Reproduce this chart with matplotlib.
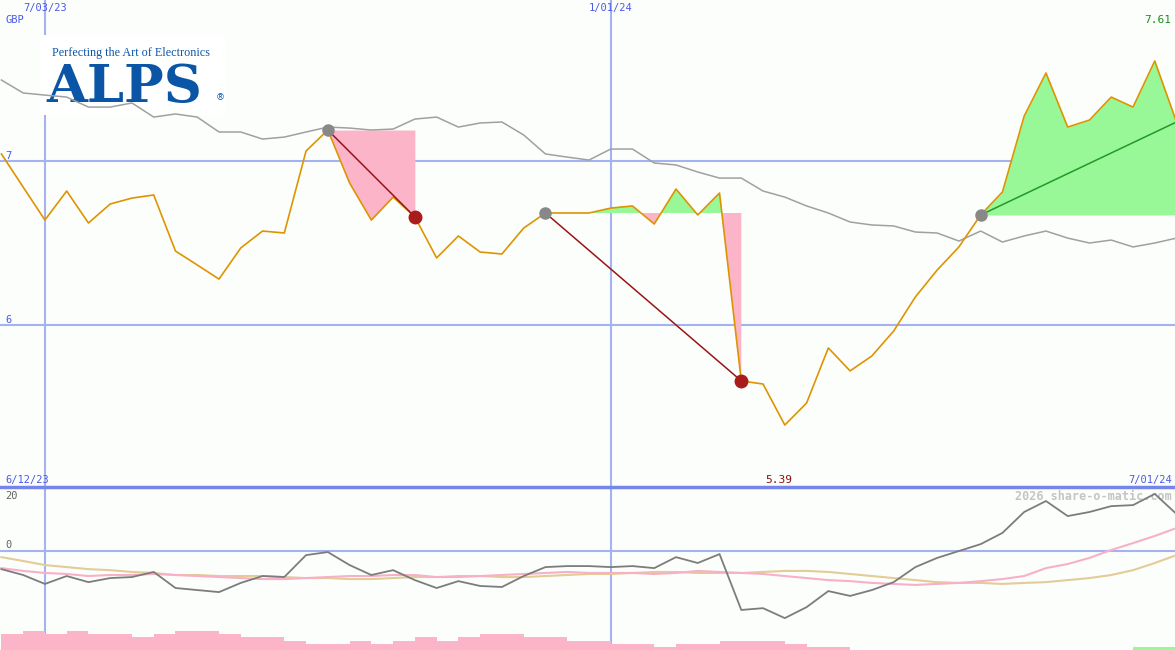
import numpy as np
import matplotlib.pyplot as plt
from matplotlib.patches import Rectangle

# weekly closes (GBP), 6/12/23 .. 7/01/24
price = [7.043, 6.841, 6.640, 6.817, 6.622, 6.738, 6.774, 6.793, 6.451, 6.366,
         6.280, 6.470, 6.573, 6.561, 7.061, 7.189, 6.866, 6.640, 6.780, 6.659,
         6.409, 6.543, 6.445, 6.433, 6.591, 6.683, 6.683, 6.683, 6.713, 6.726,
         6.616, 6.829, 6.671, 6.805, 5.659, 5.640, 5.390, 5.524, 5.860, 5.720,
         5.811, 5.963, 6.171, 6.335, 6.476, 6.671, 6.811, 7.274, 7.537, 7.207,
         7.250, 7.390, 7.329, 7.610, 7.238]
# moving average
ma = [7.494, 7.415, 7.402, 7.390, 7.329, 7.329, 7.354, 7.268, 7.287, 7.268,
      7.177, 7.177, 7.134, 7.146, 7.177, 7.207, 7.201, 7.189, 7.195, 7.256,
      7.268, 7.207, 7.232, 7.238, 7.159, 7.043, 7.024, 7.006, 7.073, 7.073,
      6.988, 6.976, 6.933, 6.896, 6.896, 6.817, 6.780, 6.726, 6.683, 6.628,
      6.610, 6.604, 6.567, 6.561, 6.512, 6.573, 6.506, 6.543, 6.573, 6.530,
      6.500, 6.518, 6.476, 6.500, 6.530]
# oscillator panel
momentum = [-7.1, -9.4, -12.9, -9.8, -12.2, -10.6, -10.2, -8.2, -14.5, -15.3,
            -16.1, -12.5, -9.8, -10.2, -1.6, -0.4, -5.5, -9.4, -7.5, -11.4,
            -14.5, -11.8, -13.7, -14.1, -9.8, -6.3, -5.9, -5.9, -6.3, -5.9,
            -6.7, -2.4, -4.7, -1.2, -23.1, -22.4, -26.3, -22.0, -15.7, -17.6,
            -15.3, -12.2, -6.3, -2.7, 0.0, 2.7, 7.1, 15.3, 19.6, 13.7,
            15.3, 17.6, 18.0, 22.4, 14.5]
signal_pink = [-6.7, -7.8, -8.6, -9.0, -9.8, -9.4, -9.4, -9.0, -9.4, -9.8,
               -10.2, -10.6, -11.0, -11.0, -10.6, -10.2, -9.8, -9.8, -9.4, -9.4,
               -10.2, -10.2, -9.8, -9.4, -9.0, -8.6, -8.2, -8.6, -8.6, -8.6,
               -9.0, -8.6, -7.8, -8.2, -8.6, -9.0, -9.8, -10.6, -11.4, -11.8,
               -12.5, -12.9, -13.3, -12.9, -12.5, -11.8, -11.0, -9.8, -6.7, -5.1,
               -2.7, 0.4, 3.1, 5.9, 9.0]
signal_tan = [-2.4, -3.9, -5.5, -6.3, -7.1, -7.5, -8.2, -8.6, -9.4, -9.4,
              -9.8, -9.8, -9.8, -10.2, -10.6, -10.6, -11.0, -11.0, -10.6, -10.2,
              -10.2, -9.8, -9.8, -10.2, -10.2, -9.8, -9.4, -9.0, -9.0, -8.6,
              -8.2, -8.2, -8.6, -8.6, -8.6, -8.2, -7.8, -7.8, -8.2, -9.0,
              -9.8, -10.6, -11.4, -12.2, -12.5, -12.5, -12.9, -12.5, -12.2, -11.4,
              -10.6, -9.4, -7.5, -4.7, -1.6]
osc_bars = [-5, -6, -5, -6, -5, -5, -4, -5, -6, -6,
            -5, -4, -4, -3, -2, -2, -3, -2, -3, -4,
            -3, -4, -5, -5, -4, -4, -3, -3, -2, -2,
            -1, -2, -2, -3, -3, -3, -2, -1, -1, 0,
            0, 0, 0, 0, 0, 0, 0, 0, 0, 0,
            0, 0, 1, 1]
# trades: (entry index, exit index)
trades = [(15, 19), (25, 34), (45, 54)]
open_trade = 2
date_top = ['7/03/23', '1/01/24']
date_top_idx = [2, 28]

x = np.arange(len(price))
price = np.array(price)

BG = '#fcfefc'
GRID = '#a3b3f0'
BLUE_TXT = '#4a5ae8'
LOGO = '#0a55a5'

fig = plt.figure(figsize=(11.75, 6.5), dpi=100, facecolor=BG)
ax = fig.add_axes([0, 163 / 650, 1, 487 / 650], facecolor=BG)
ax2 = fig.add_axes([0, 0, 1, 163 / 650], facecolor=BG)

xlim = (-0.064, 53.93)
for a in (ax, ax2):
    a.set_xlim(*xlim)
    for s in a.spines.values():
        s.set_visible(False)
    a.set_xticks([])
    a.set_yticks([])
    for xi in date_top_idx:
        a.axvline(xi, color=GRID, lw=1.5, zorder=1)

ax.set_ylim(5.012, 7.982)
for lvl in (6, 7):
    ax.axhline(lvl, color=GRID, lw=1.5, zorder=1)

# logo with white box
ax.add_patch(Rectangle((40 / 1175, 1 - 115 / 487), 185 / 1175, 80 / 487,
                       transform=ax.transAxes, facecolor='white', edgecolor='none', zorder=2))
ax.text(52 / 1175, 1 - 56 / 487, 'Perfecting the Art of Electronics', transform=ax.transAxes,
        family='Liberation Serif', fontsize=8.7, color=LOGO, va='baseline', ha='left', zorder=3)
ax.text(46 / 1175, 1 - 102 / 487, 'ALPS', transform=ax.transAxes, family='DejaVu Serif',
        fontweight='bold', fontsize=38, color=LOGO, va='baseline', ha='left', zorder=3)
ax.text(220 / 1175, 1 - 98 / 487, '®', transform=ax.transAxes, family='DejaVu Sans',
        fontsize=6.5, color=LOGO, va='center', ha='center', zorder=3)

ax.plot(x, ma, color='#a0a0a0', lw=1.1, zorder=4)

# trade fills
for k, (i0, i1) in enumerate(trades):
    seg = slice(i0, i1 + 1)
    lvl = price[i0]
    ax.fill_between(x[seg], price[seg], lvl, where=price[seg] >= lvl, interpolate=True,
                    color='#98f898', lw=0, zorder=3)
    ax.fill_between(x[seg], price[seg], lvl, where=price[seg] <= lvl, interpolate=True,
                    color='#fbb4c8', lw=0, zorder=3)

ax.plot(x, price, color='#de9400', lw=1.2, zorder=5)

for k, (i0, i1) in enumerate(trades):
    if k == open_trade:
        ax.plot([i0, i1], [price[i0], price[i1]], color='#229922', lw=1.1, zorder=6)
    else:
        ax.plot([i0, i1], [price[i0], price[i1]], color='#991515', lw=1.1, zorder=6)
        ax.plot(i1, price[i1], 'o', ms=9, color='#aa1c1c', zorder=7)
    ax.plot(i0, price[i0], 'o', ms=8, color='#888888', zorder=7)

mono = 'DejaVu Sans Mono'
for xi, lab in zip(date_top_idx, date_top):
    ax.text(xi, 1 - 8 / 487, lab, transform=ax.get_xaxis_transform(), ha='center', va='center',
            family=mono, fontsize=7.5, color=BLUE_TXT)
ax.text(5 / 1175, 1 - 20 / 487, 'GBP', transform=ax.transAxes, family=mono, fontsize=7.5,
        color=BLUE_TXT, va='center')
for lvl in (6, 7):
    ax.text(5 / 1175, lvl, str(lvl), transform=ax.get_yaxis_transform(), family=mono,
            fontsize=7.5, color=BLUE_TXT, va='bottom')
ax.text(1 - 4 / 1175, 1 - 20 / 487, '%.2f' % price.max(), transform=ax.transAxes, ha='right',
        va='center', family=mono, fontsize=8, color='#169016')
ax.text(x[np.argmin(price)] - 0.3, 1 - 480 / 487, '%.2f' % price.min(), transform=ax.get_xaxis_transform(),
        ha='center', va='center', family=mono, fontsize=8, color='#8a1010')
ax.text(5 / 1175, 1 - 480 / 487, '6/12/23', transform=ax.transAxes, family=mono, fontsize=7.5,
        color=BLUE_TXT, va='center')
ax.text(1 - 3 / 1175, 1 - 480 / 487, '7/01/24', transform=ax.transAxes, family=mono, fontsize=7.5,
        color=BLUE_TXT, va='center', ha='right')

# lower panel
ax2.set_ylim(-38.8, 25.1)
ax2.axhline(0, color=GRID, lw=1.5, zorder=1)
ax2.axhline(25.1, color='#7585ea', lw=2.5, zorder=8, clip_on=False)
ax2.plot(x, signal_tan, color='#e2cc98', lw=1.5, zorder=3)
ax2.plot(x, signal_pink, color='#f8b0c8', lw=1.5, zorder=3)
ax2.plot(x, momentum, color='#7c7c7c', lw=1.3, zorder=4)

ax3 = ax2.twinx()
ax3.set_ylim(0, 52)
ax3.set_yticks([])
for s in ax3.spines.values():
    s.set_visible(False)
bars = np.array(osc_bars)
ax3.bar(x[:len(bars)], np.abs(bars), width=1, align='edge', lw=0,
        color=['#fbb4c8' if b < 0 else '#98f898' for b in bars], zorder=2)

ax2.text(5 / 1175, 1 - 9 / 163, '20', transform=ax2.transAxes, family=mono, fontsize=7.5,
         color='#606060', va='center')
ax2.text(5 / 1175, 1 - 58 / 163, '0', transform=ax2.transAxes, family=mono, fontsize=7.5,
         color='#606060', va='center')
ax2.text(5 / 1175, 1 - 154 / 163, '-30', transform=ax2.transAxes, family=mono, fontsize=7.5,
         color='#606060', va='center')
ax2.text(1 - 3 / 1175, 1 - 10 / 163, '2026 share-o-matic.com', transform=ax2.transAxes,
         family=mono, fontweight='bold', fontsize=8.5, color='#c4c4c4', va='center', ha='right')

fig.savefig('out.png', dpi=100, facecolor=BG)
